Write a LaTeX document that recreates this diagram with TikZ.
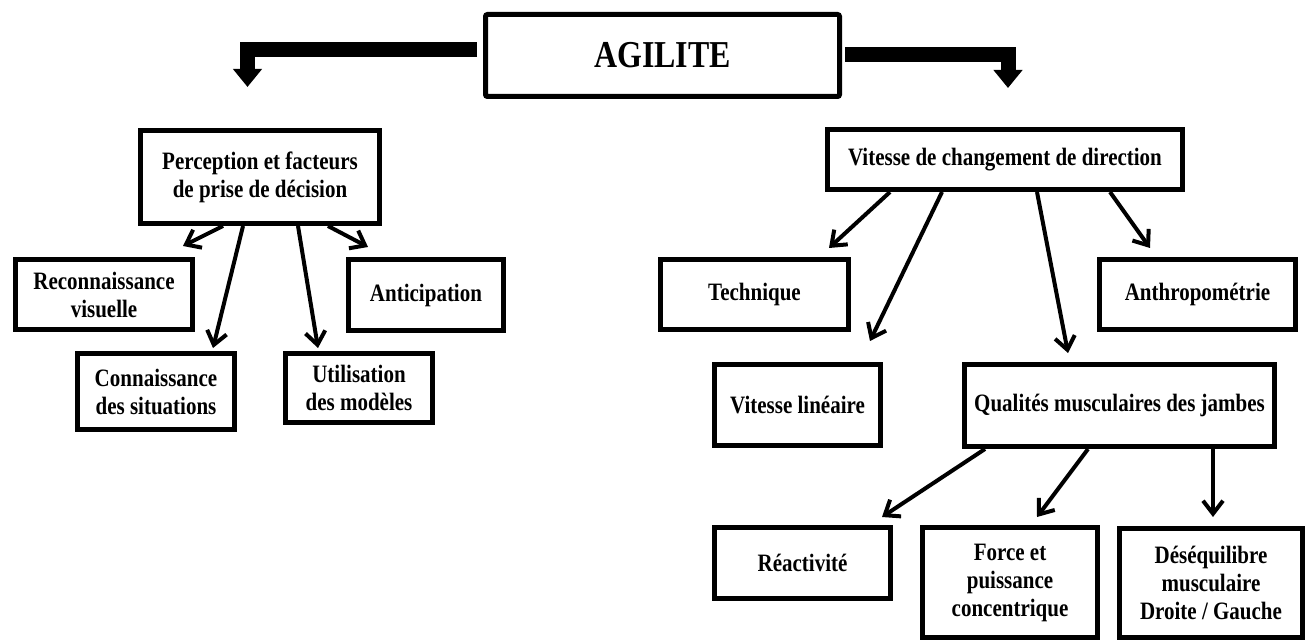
\documentclass[tikz,border=0pt]{standalone}
\usepackage{fontspec}
\setmainfont{Liberation Serif}[FakeStretch=0.84]
\usetikzlibrary{arrows.meta}

\begin{document}
\begin{tikzpicture}[x=1pt,y=-1pt,
    box/.style={draw, line width=5pt, align=center, inner sep=0pt, font=\fontsize{25}{28}\selectfont\bfseries},
    link/.style={line width=4pt, -{Straight Barb[length=13pt,width=20pt]}},
    bigarrow/.style={line width=15pt, -{Triangle[length=18pt,width=28pt]}}]
    \useasboundingbox (0,0) rectangle (1312,644);

    \node[box, rounded corners=2pt, minimum width=354pt, minimum height=82pt, font=\fontsize{38}{42}\selectfont\bfseries] (0) at (662.5,55.5) {AGILITE};

    \node[box, minimum width=239pt, minimum height=93pt] (1) at (260,177) {Perception et facteurs\\de prise de décision};
    \node[box, minimum width=177pt, minimum height=70pt] (1a) at (104,294.5) {Reconnaissance\\visuelle};
    \node[box, minimum width=157pt, minimum height=76pt] (1b) at (156,391.5) {Connaissance\\des situations};
    \node[box, minimum width=147pt, minimum height=69pt] (1c) at (359,388) {Utilisation\\des modèles};
    \node[box, minimum width=155pt, minimum height=71pt] (1d) at (426,295) {Anticipation};

    \node[box, minimum width=355pt, minimum height=60pt] (2) at (1005,159.5) {Vitesse de changement de direction};
    \node[box, minimum width=188pt, minimum height=70pt] (2a) at (754.5,294.5) {Technique};
    \node[box, minimum width=166pt, minimum height=81pt] (2b) at (797.5,405) {Vitesse linéaire};
    \node[box, minimum width=310pt, minimum height=82pt] (2c) at (1119.5,405.5) {Qualités musculaires des jambes};
    \node[box, minimum width=196pt, minimum height=70pt] (2d) at (1197.5,294.5) {Anthropométrie};

    \node[box, minimum width=176pt, minimum height=71pt] (3a) at (802.5,563) {Réactivité};
    \node[box, minimum width=175pt, minimum height=110pt] (3b) at (1010,582.5) {Force et\\puissance\\concentrique};
    \node[box, minimum width=183pt, minimum height=109pt] (3c) at (1211,583) {Déséquilibre\\musculaire\\Droite / Gauche};

    \draw[bigarrow] ([xshift=-6pt,yshift=5.5pt]0.west) -| ([xshift=-12.5pt,yshift=41pt]1.north);
    \draw[bigarrow] ([xshift=3pt,yshift=1pt]0.east) -| ([xshift=3pt,yshift=39pt]2.north);

    \path[link]
	([xshift=-37pt]1.south) edge ([xshift=79pt,yshift=11pt]1a.north)
	([xshift=-17pt]1.south) edge ([xshift=57pt,yshift=3pt]1b.north)
	([xshift=38pt]1.south) edge ([xshift=-41pt,yshift=3pt]1c.north)
	([xshift=68pt]1.south) edge ([xshift=-58pt,yshift=10pt]1d.north)

	([xshift=-115pt]2.south) edge ([xshift=74.5pt,yshift=9pt]2a.north)
	([xshift=-63pt]2.south) edge ([xshift=72.5pt,yshift=21pt]2b.north)
	([xshift=32pt]2.south) edge ([xshift=-51.5pt,yshift=9pt]2c.north)
	([xshift=105pt]2.south) edge ([xshift=-47.5pt,yshift=9pt]2d.north)

	([xshift=-134.5pt]2c.south) edge ([xshift=79.5pt,yshift=8pt]3a.north)
	([xshift=-31.5pt]2c.south) edge ([xshift=27pt,yshift=8pt]3b.north)
	([xshift=93.5pt]2c.south) edge ([xshift=2pt,yshift=9pt]3c.north);
\end{tikzpicture}
\end{document}
